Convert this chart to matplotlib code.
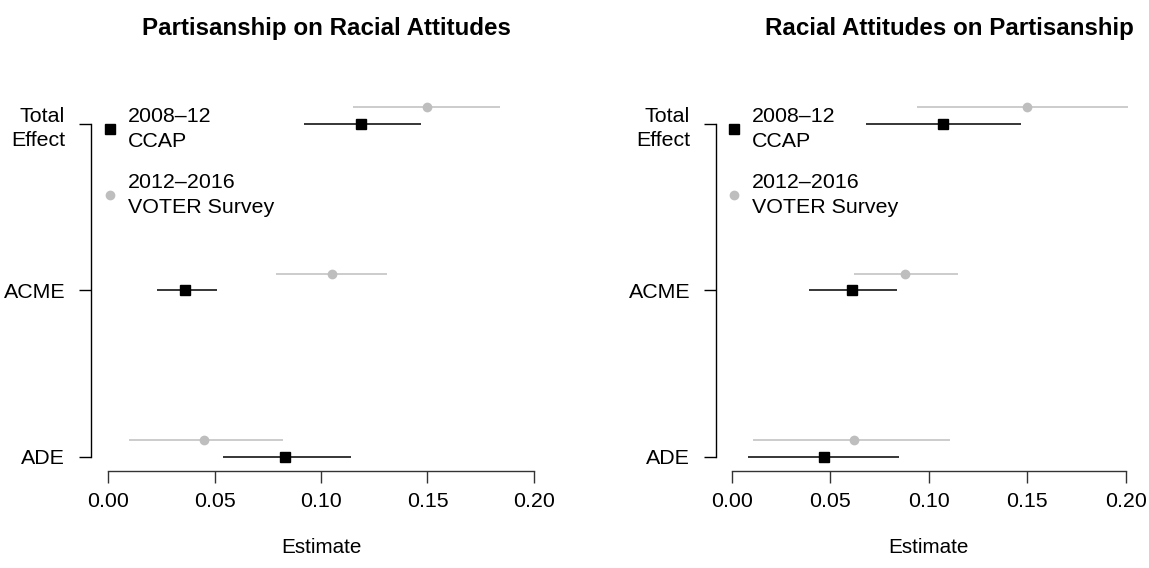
import matplotlib
matplotlib.use("Agg")
import matplotlib.pyplot as plt
from matplotlib.lines import Line2D

plt.rcParams['font.family'] = ['Liberation Sans', 'DejaVu Sans']

# ====== Data ======

effects = ["ADE", "ACME", "Total\nEffect"]
effect_pos = [1, 2, 3]
voter_shift = 0.1

titles = ["Partisanship on Racial Attitudes", "Racial Attitudes on Partisanship"]

# Partisanship on Racial Attitudes
p_ccap_est = [0.083, 0.036, 0.119]
p_ccap_lo = [0.054, 0.023, 0.092]
p_ccap_hi = [0.114, 0.051, 0.147]
p_voter_est = [0.045, 0.105, 0.150]
p_voter_lo = [0.010, 0.079, 0.115]
p_voter_hi = [0.082, 0.131, 0.184]

# Racial Attitudes on Partisanship
r_ccap_est = [0.047, 0.061, 0.107]
r_ccap_lo = [0.008, 0.039, 0.068]
r_ccap_hi = [0.085, 0.084, 0.147]
r_voter_est = [0.062, 0.088, 0.150]
r_voter_lo = [0.011, 0.062, 0.094]
r_voter_hi = [0.111, 0.115, 0.201]

xticks = [0.00, 0.05, 0.10, 0.15, 0.20]
xtick_labels = ["0.00", "0.05", "0.10", "0.15", "0.20"]

ccap_label = "2008\u201312\nCCAP"
voter_label = "2012\u20132016\nVOTER Survey"

GRAY = "#bebebe"
FS = 15.4


def draw_panel(ax, ccap, voter):
    c_est, c_lo, c_hi = ccap
    v_est, v_lo, v_hi = voter
    v_pos = [p + voter_shift for p in effect_pos]

    ax.hlines(v_pos, v_lo, v_hi, color=GRAY, lw=1.1)
    ax.plot(v_est, v_pos, 'o', color=GRAY, ms=6)
    ax.hlines(effect_pos, c_lo, c_hi, color='black', lw=1.1)
    ax.plot(c_est, effect_pos, 's', color='black', ms=7)

    ax.set_xlim(-0.008, 0.208)
    ax.set_ylim(0.916, 3.184)
    ax.set_xticks(xticks)
    ax.set_xticklabels(xtick_labels)
    ax.set_yticks(effect_pos)
    ax.set_yticklabels(effects, linespacing=1.35)

    for s in ['top', 'right']:
        ax.spines[s].set_visible(False)
    ax.spines['left'].set_bounds(1, 3)
    ax.spines['bottom'].set_bounds(0, 0.2)
    ax.spines['left'].set_linewidth(1.0)
    ax.spines['bottom'].set_linewidth(1.0)
    ax.spines['bottom'].set_color('#333333')

    ax.tick_params(axis='x', length=8.6, width=1.0, pad=7, labelsize=FS, color='#333333')
    ax.tick_params(axis='y', length=8.6, width=1.0, pad=10, labelsize=FS)
    ax.set_xlabel("Estimate", fontsize=FS - 0.5, labelpad=19)

    handles = [
        Line2D([], [], marker='s', color='black', ls='none', ms=7),
        Line2D([], [], marker='o', color=GRAY, ls='none', ms=6),
    ]
    leg = ax.legend(handles, [ccap_label, voter_label], loc='center left',
                    bbox_to_anchor=(0.022, 0.818), frameon=False, fontsize=FS,
                    handlelength=0.8, handletextpad=0.45, labelspacing=1.0,
                    borderpad=0, borderaxespad=0)
    for t in leg.get_texts():
        t.set_linespacing(1.4)


fig = plt.figure(figsize=(11.49, 5.68), dpi=100)
ax1 = fig.add_axes([0.0792, 0.1713, 0.4003, 0.6643])
ax2 = fig.add_axes([0.6232, 0.1713, 0.3703, 0.6643])

draw_panel(ax1, (p_ccap_est, p_ccap_lo, p_ccap_hi), (p_voter_est, p_voter_lo, p_voter_hi))
draw_panel(ax2, (r_ccap_est, r_ccap_lo, r_ccap_hi), (r_voter_est, r_voter_lo, r_voter_hi))

fig.text(326 / 1149, 1 - 28 / 568, titles[0], ha='center', va='center',
         fontsize=17.4, fontweight='bold')
fig.text(949 / 1149, 1 - 28 / 568, titles[1], ha='center', va='center',
         fontsize=17.4, fontweight='bold')

fig.savefig("out.png", dpi=100)
